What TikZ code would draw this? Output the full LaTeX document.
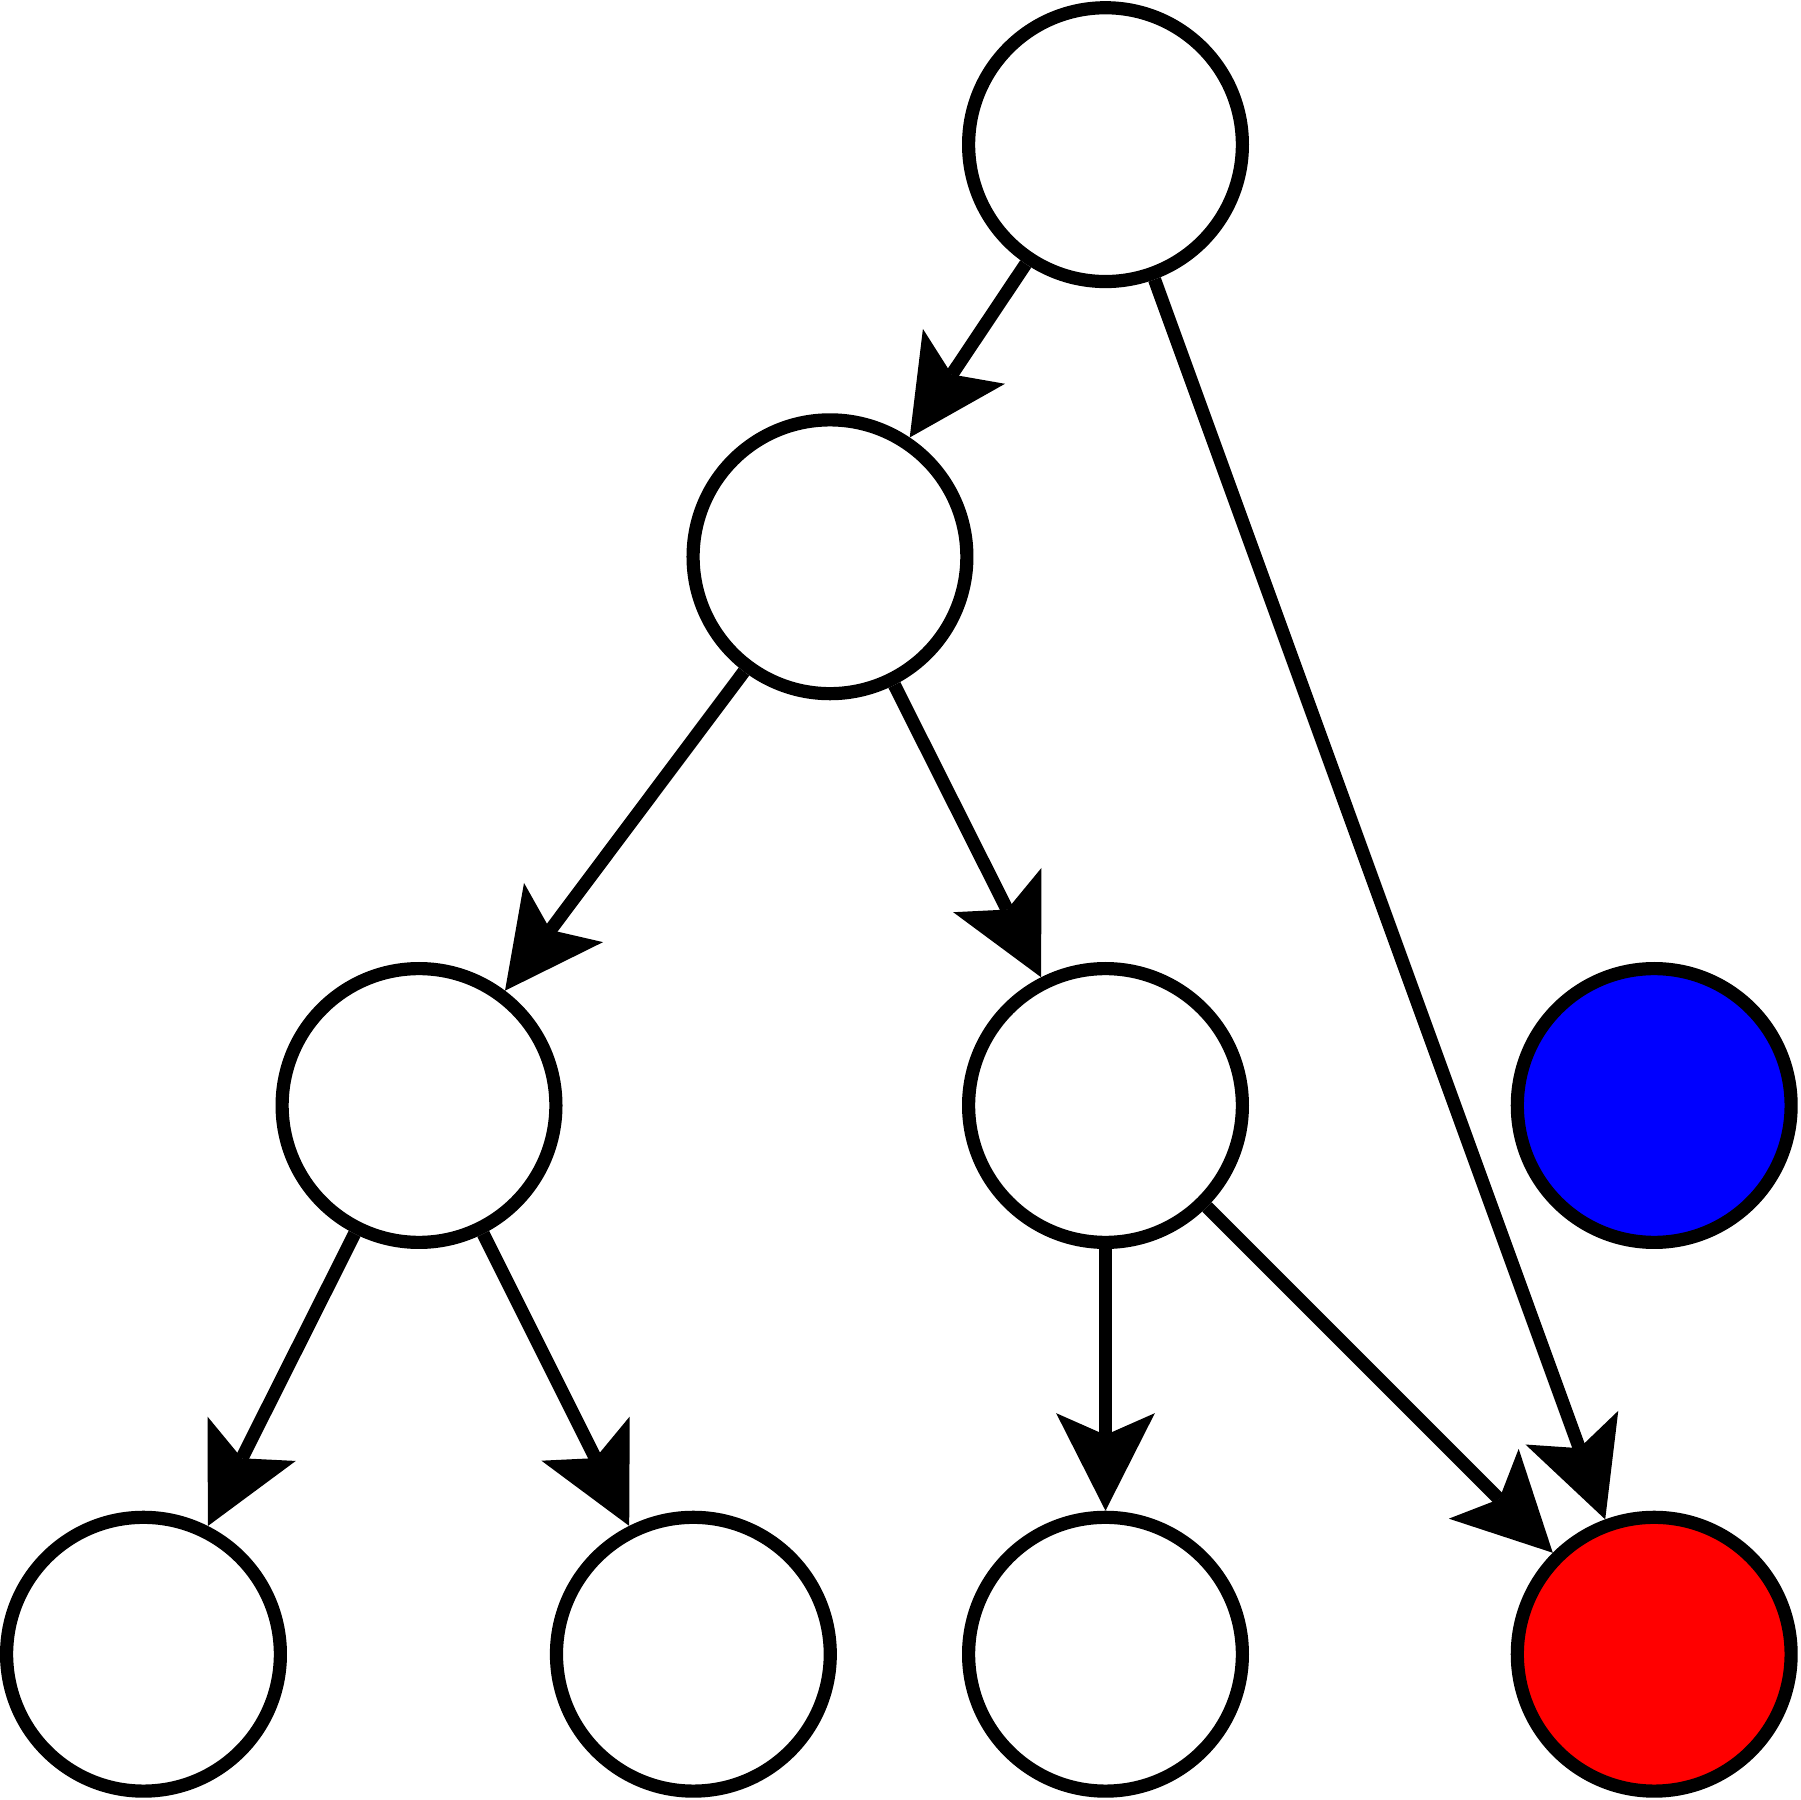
\documentclass[tikz,border=0pt]{standalone}
\usetikzlibrary{arrows.meta}
\begin{document}
\begin{tikzpicture}[
  vertex/.style={circle, draw=black, line width=0.115cm, minimum size=2.385cm, inner sep=0pt, fill=white},
  edge/.style={line width=0.115cm, -{Stealth[length=0.85cm, width=0.86cm, inset=0.19cm, line width=0pt]}}
]
\useasboundingbox (0,0) rectangle (15.68,-15.68);
% tree vertices
\node[vertex] (r)   at (9.63,-1.26)  {};
\node[vertex] (a)   at (7.23,-4.85)  {};
\node[vertex] (b)   at (3.65,-9.63)  {};
\node[vertex] (c)   at (9.63,-9.63)  {};
\node[vertex] (d)   at (1.25,-14.41) {};
\node[vertex] (e)   at (6.04,-14.41) {};
\node[vertex] (f)   at (9.63,-14.41) {};
\node[vertex, fill={rgb,255:red,255;green,0;blue,0}] (g) at (14.41,-14.41) {};
\node[vertex, fill={rgb,255:red,0;green,0;blue,255}] (h) at (14.41,-9.63) {};
% directed edges
\draw[edge] (r) -- (a);
\draw[edge] (r) -- (g);
\draw[edge] (a) -- (b);
\draw[edge] (a) -- (c);
\draw[edge] (b) -- (d);
\draw[edge] (b) -- (e);
\draw[edge] (c) -- (f);
\draw[edge] (c) -- (g);
\end{tikzpicture}
\end{document}
